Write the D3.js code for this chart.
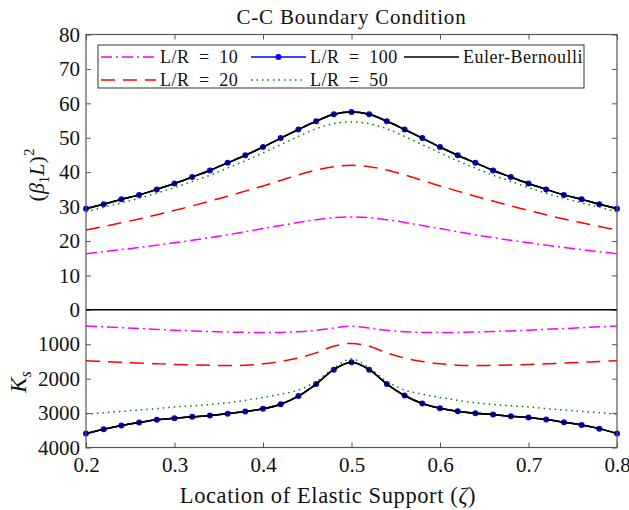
<!DOCTYPE html>
<html>
<head>
<meta charset="utf-8">
<script src="https://cdn.jsdelivr.net/npm/d3@7"></script>
<style>
  body { margin: 0; background: #fff; }
  text { font-family: "Liberation Serif", "DejaVu Serif", serif; fill: #111; }
</style>
</head>
<body>
<div id="chart"></div>
<script>
// location of elastic support, 0.2 .. 0.8 every 0.02
var zeta = [0.20,0.22,0.24,0.26,0.28,0.30,0.32,0.34,0.36,0.38,0.40,0.42,0.44,0.46,0.48,0.50,
            0.52,0.54,0.56,0.58,0.60,0.62,0.64,0.66,0.68,0.70,0.72,0.74,0.76,0.78,0.80];

// upper panel, (beta1 L)^2
var freqLR10  = [16.3,16.9,17.5,18.1,18.8,19.5,20.2,21.0,21.8,22.7,23.6,24.5,25.4,26.2,26.8,27.0,
                 26.8,26.2,25.4,24.5,23.6,22.7,21.8,21.0,20.2,19.5,18.8,18.1,17.5,16.9,16.3];
var freqLR20  = [23.2,24.2,25.3,26.4,27.6,28.9,30.2,31.6,33.0,34.5,36.0,37.6,39.2,40.6,41.6,42.0,
                 41.6,40.6,39.2,37.6,36.0,34.5,33.0,31.6,30.2,28.9,27.6,26.4,25.3,24.2,23.2];
var freqLR50  = [28.5,29.8,31.1,32.4,33.9,35.5,37.3,39.1,41.2,43.3,45.6,48.0,50.4,52.6,54.1,54.6,
                 54.1,52.6,50.4,48.0,45.6,43.3,41.2,39.1,37.3,35.5,33.9,32.4,31.1,29.8,28.5];
var freqLR100 = [29.4,30.7,32.1,33.4,35.0,36.7,38.6,40.5,42.7,44.9,47.3,49.9,52.4,54.8,56.8,57.5,
                 56.8,54.8,52.4,49.9,47.3,44.9,42.7,40.5,38.6,36.7,35.0,33.4,32.1,30.7,29.4];
var freqEB    = [29.4,30.7,32.1,33.4,35.0,36.7,38.6,40.5,42.7,44.9,47.3,49.9,52.4,54.8,56.8,57.5,
                 56.8,54.8,52.4,49.9,47.3,44.9,42.7,40.5,38.6,36.7,35.0,33.4,32.1,30.7,29.4];

// lower panel, Ks
var ksLR10  = [470,495,520,545,568,590,612,630,645,655,660,655,635,595,530,475,
               530,595,635,655,660,655,645,630,612,590,568,545,520,495,470];
var ksLR20  = [1477,1500,1525,1548,1567,1585,1600,1612,1620,1610,1570,1500,1400,1250,1060,975,
               1060,1250,1400,1500,1570,1610,1620,1612,1600,1585,1567,1548,1525,1500,1477];
var ksLR50  = [3030,2990,2950,2910,2870,2820,2790,2750,2700,2630,2545,2450,2330,2080,1690,1430,
               1690,2080,2330,2450,2545,2630,2700,2750,2790,2820,2870,2910,2950,2990,3030];
var ksLR100 = [3596,3470,3362,3275,3197,3149,3110,3071,3022,2954,2877,2741,2507,2157,1740,1526,
               1740,2157,2489,2722,2857,2945,3003,3044,3091,3131,3189,3265,3344,3452,3596];
var ksEB    = [3596,3470,3362,3275,3197,3149,3110,3071,3022,2954,2877,2741,2507,2157,1740,1526,
               1740,2157,2489,2722,2857,2945,3003,3044,3091,3131,3189,3265,3344,3452,3596];

var xTicks = [0.2,0.3,0.4,0.5,0.6,0.7,0.8];
var upTicks = [0,10,20,30,40,50,60,70,80];
var lowTicks = [1000,2000,3000,4000];

var width = 629, height = 510,
    plotLeft = 86, plotRight = 617, plotTop = 34.5, plotBottom = 447.5;

var svg = d3.select("#chart").append("svg")
    .attr("width", width)
    .attr("height", height);

var x = d3.scaleLinear().domain([0.2, 0.8]).range([plotLeft, plotRight]);
// one pixel mapping for both panels: 80 at top, 0 in the middle, Ks=4000 at bottom
var yAll = d3.scaleLinear().domain([80, -40]).range([plotTop, plotBottom]);
var yUp = d3.scaleLinear().domain([0, 80]).range([yAll(0), yAll(80)]);
var yLow = d3.scaleLinear().domain([0, 4000]).range([yAll(0), yAll(-40)]);

var axisColor = "#555";

// box ticks (inward)
function styleAxis(g) {
  g.select(".domain").remove();
  g.selectAll(".tick line").attr("stroke", axisColor);
  g.selectAll(".tick text")
    .style("font-family", "'Liberation Serif', serif")
    .style("font-size", "21px")
    .attr("fill", "#111");
}

svg.append("g")
    .attr("transform", "translate(0," + plotBottom + ")")
    .call(d3.axisBottom(x).tickValues(xTicks).tickSizeInner(-5).tickSizeOuter(0).tickPadding(10)
      .tickFormat(d3.format(".1f")))
    .call(styleAxis);

svg.append("g")
    .attr("transform", "translate(0," + plotTop + ")")
    .call(d3.axisTop(x).tickValues(xTicks).tickSizeInner(-5).tickSizeOuter(0).tickFormat(""))
    .call(styleAxis);

svg.append("g")
    .attr("transform", "translate(" + plotLeft + ",0)")
    .call(d3.axisLeft(yUp).tickValues(upTicks).tickSizeInner(-5).tickSizeOuter(0).tickPadding(6)
      .tickFormat(d3.format("d")))
    .call(styleAxis);

svg.append("g")
    .attr("transform", "translate(" + plotLeft + ",0)")
    .call(d3.axisLeft(yLow).tickValues(lowTicks).tickSizeInner(-5).tickSizeOuter(0).tickPadding(6)
      .tickFormat(d3.format("d")))
    .call(styleAxis);

svg.append("g")
    .attr("transform", "translate(" + plotRight + ",0)")
    .call(d3.axisRight(yUp).tickValues(upTicks).tickSizeInner(-5).tickSizeOuter(0).tickFormat(""))
    .call(styleAxis);

svg.append("g")
    .attr("transform", "translate(" + plotRight + ",0)")
    .call(d3.axisRight(yLow).tickValues(lowTicks).tickSizeInner(-5).tickSizeOuter(0).tickFormat(""))
    .call(styleAxis);

// zero line
svg.append("line")
    .attr("x1", plotLeft).attr("x2", plotRight)
    .attr("y1", yAll(0)).attr("y2", yAll(0))
    .attr("stroke", "#000")
    .attr("stroke-width", 1.5);

var series = [
  {name: "L/R\u2002=\u200210", up: freqLR10, low: ksLR10, color: "#ff00ff", dash: "11,4,2,4", marker: false},
  {name: "L/R\u2002=\u200220", up: freqLR20, low: ksLR20, color: "#ff0000", dash: "14,8", marker: false},
  {name: "L/R\u2002=\u2002100", up: freqLR100, low: ksLR100, color: "#0000ff", dash: null, marker: true},
  {name: "L/R\u2002=\u200250", up: freqLR50, low: ksLR50, color: "#008000", dash: "1.5,4", marker: false},
  {name: "Euler-Bernoulli", up: freqEB, low: ksEB, color: "#000000", dash: null, marker: false}
];

var lineUp = d3.line()
    .x(function(d, i) { return x(zeta[i]); })
    .y(function(d) { return yUp(d); })
    .curve(d3.curveCatmullRom);

var lineLow = d3.line()
    .x(function(d, i) { return x(zeta[i]); })
    .y(function(d) { return yLow(d); })
    .curve(d3.curveCatmullRom);

var plot = svg.append("g");

series.forEach(function(s) {
  [[s.up, lineUp, yUp], [s.low, lineLow, yLow]].forEach(function(p) {
    plot.append("path")
        .datum(p[0])
        .attr("fill", "none")
        .attr("stroke", s.color)
        .attr("stroke-width", 1.5)
        .attr("stroke-dasharray", s.dash)
        .attr("d", p[1]);
    if (s.marker) {
      plot.append("g").selectAll("circle")
          .data(p[0])
        .enter().append("circle")
          .attr("cx", function(d, i) { return x(zeta[i]); })
          .attr("cy", function(d) { return p[2](d); })
          .attr("r", 3)
          .attr("fill", s.color);
    }
  });
});

// EB line drawn on top of the L/R=100 markers
plot.append("path").datum(freqEB).attr("fill", "none").attr("stroke", "#000").attr("stroke-width", 1.5).attr("d", lineUp);
plot.append("path").datum(ksEB).attr("fill", "none").attr("stroke", "#000").attr("stroke-width", 1.5).attr("d", lineLow);

// frame
svg.append("rect")
    .attr("x", plotLeft).attr("y", plotTop)
    .attr("width", plotRight - plotLeft).attr("height", plotBottom - plotTop)
    .attr("fill", "none")
    .attr("stroke", axisColor)
    .attr("stroke-width", 1.2);

// legend
var legend = svg.append("g");
legend.append("rect")
    .attr("x", 98).attr("y", 45)
    .attr("width", 486).attr("height", 43)
    .attr("fill", "#fff")
    .attr("stroke", "#333")
    .attr("stroke-width", 1);

var legendPos = [[101, 57], [101, 80], [251, 57], [251, 80], [404, 57]];
series.forEach(function(s, i) {
  var lx = legendPos[i][0], ly = legendPos[i][1];
  legend.append("line")
      .attr("x1", lx).attr("x2", lx + 55)
      .attr("y1", ly).attr("y2", ly)
      .attr("stroke", s.color)
      .attr("stroke-width", 1.5)
      .attr("stroke-dasharray", s.dash);
  if (s.marker) {
    legend.append("circle").attr("cx", lx + 27.5).attr("cy", ly).attr("r", 3).attr("fill", s.color);
  }
  legend.append("text")
      .attr("x", lx + 59).attr("y", ly + 6)
      .style("font-size", "18px")
      .style("letter-spacing", "0.5px")
      .text(s.name);
});

// title and labels
svg.append("text")
    .attr("x", (plotLeft + plotRight) / 2).attr("y", 24)
    .attr("text-anchor", "middle")
    .style("font-size", "21px")
    .style("letter-spacing", "0.8px")
    .text("C-C Boundary Condition");

var xl = svg.append("text")
    .attr("x", 328).attr("y", 503)
    .attr("text-anchor", "middle")
    .style("font-size", "22.5px")
    .style("letter-spacing", "0.6px");
xl.append("tspan").text("Location of Elastic Support (");
xl.append("tspan").style("font-style", "italic").text("ζ");
xl.append("tspan").text(")");

var yl = svg.append("text")
    .attr("transform", "translate(44,175) rotate(-90)")
    .attr("text-anchor", "middle")
    .style("font-size", "22px");
yl.append("tspan").text("(");
yl.append("tspan").style("font-style", "italic").text("β");
yl.append("tspan").attr("dy", 5).style("font-size", "15px").text("1");
yl.append("tspan").attr("dy", -5).style("font-style", "italic").text("L");
yl.append("tspan").text(")");
yl.append("tspan").attr("dy", -10).style("font-size", "15px").text("2");

var kl = svg.append("text")
    .attr("transform", "translate(26,382) rotate(-90)")
    .attr("text-anchor", "middle")
    .style("font-size", "23px");
kl.append("tspan").style("font-style", "italic").text("K");
kl.append("tspan").attr("dy", 5).style("font-size", "16px").style("font-style", "italic").text("s");
</script>
</body>
</html>
